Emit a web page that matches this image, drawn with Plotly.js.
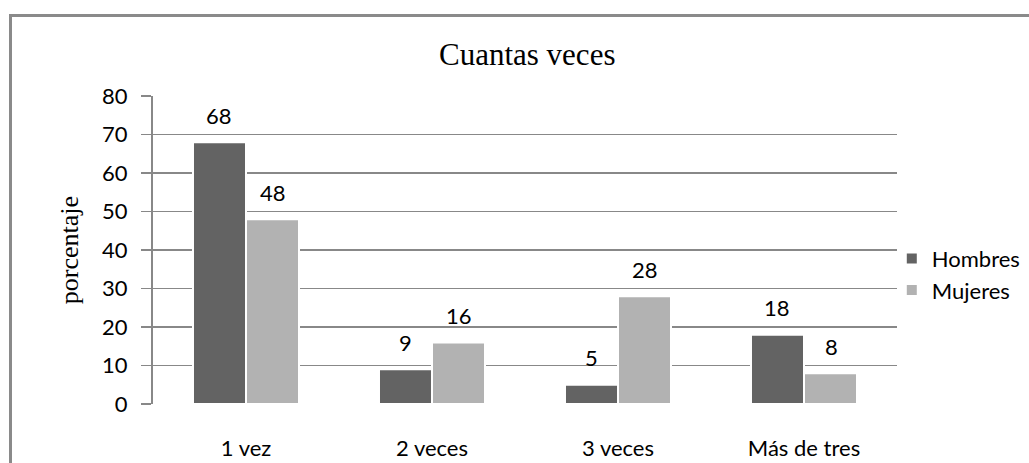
<!DOCTYPE html>
<html>
<head>
<meta charset="utf-8">
<script src="https://cdn.plot.ly/plotly-3.0.1.min.js"></script>
<style>
  html, body { margin: 0; padding: 0; background: #ffffff; }
  #wrap { position: relative; width: 1029px; height: 463px; overflow: hidden; }
  #chart { position: absolute; left: 0; top: 0; width: 1029px; height: 463px; }
  #frame { position: absolute; left: 9px; top: 14px; width: 1040px; height: 480px;
           border: 3px solid #8a8a8a; box-sizing: border-box; pointer-events: none; }
</style>
</head>
<body>
<div id="wrap">
  <div id="chart"></div>
  <div id="frame"></div>
</div>
<script>
const categories = ["1 vez", "2 veces", "3 veces", "Más de tres"];
const hombres = [68, 9, 5, 18];
const mujeres = [48, 16, 28, 8];
const seriesNames = ["Hombres", "Mujeres"];
const yTicks = [0, 10, 20, 30, 40, 50, 60, 70, 80];

const colors = ["#636363", "#b2b2b2"];
const sansFont = "Lato, 'Open Sans', sans-serif";
const serifFont = "'Liberation Serif', 'DejaVu Serif', serif";

const seriesValues = [hombres, mujeres];
const traces = seriesValues.map((vals, i) => ({
  type: "bar",
  name: seriesNames[i],
  x: categories,
  y: vals,
  marker: { color: colors[i], line: { color: "#ffffff", width: 2 } },
  hoverinfo: "x+y+name"
}));

const shifts = [-27, 27];
const annotations = [];
seriesValues.forEach((vals, i) => {
  vals.forEach((v, j) => {
    annotations.push({
      x: categories[j], y: v, xref: "x", yref: "y",
      text: String(v), showarrow: false,
      xshift: shifts[i], yshift: 27,
      yanchor: "middle", xanchor: "center",
      font: { family: sansFont, size: 22, color: "#000000" }
    });
  });
});

const layout = {
  width: 1029, height: 463,
  margin: { l: 153, r: 132, t: 96, b: 59, pad: 0, autoexpand: false },
  paper_bgcolor: "#ffffff", plot_bgcolor: "#ffffff",
  barmode: "group", bargap: 0.43, bargroupgap: 0,
  title: {
    text: "Cuantas veces",
    font: { family: serifFont, size: 31, color: "#000000" },
    x: 0.503, xanchor: "center", xref: "paper",
    y: 1 - 54 / 463, yanchor: "middle", yref: "container"
  },
  xaxis: {
    type: "category", automargin: false,
    showgrid: false, zeroline: false, showline: false,
    ticks: "", ticklabelstandoff: 29,
    tickfont: { family: sansFont, size: 22, color: "#000000" },
    fixedrange: true
  },
  yaxis: {
    range: [0, 80], tickvals: yTicks, ticktext: yTicks.map(String),
    automargin: false,
    showgrid: true, gridcolor: "#888888", gridwidth: 1.5,
    zeroline: false,
    showline: true, linecolor: "#888888", linewidth: 2,
    ticks: "outside", ticklen: 10, tickcolor: "#888888", tickwidth: 1.5,
    ticklabelstandoff: 9,
    tickfont: { family: sansFont, size: 22, color: "#000000" },
    title: { text: "porcentaje", font: { family: serifFont, size: 26, color: "#000000" }, standoff: 16 },
    fixedrange: true
  },
  showlegend: true,
  legend: {
    x: 0.993, xanchor: "left", y: 0.42, yanchor: "middle",
    font: { family: sansFont, size: 22, color: "#000000" },
    bgcolor: "rgba(0,0,0,0)", itemclick: false, itemwidth: 30
  },
  annotations: annotations
};

Plotly.newPlot("chart", traces, layout, { displayModeBar: false, staticPlot: true });
</script>
</body>
</html>
